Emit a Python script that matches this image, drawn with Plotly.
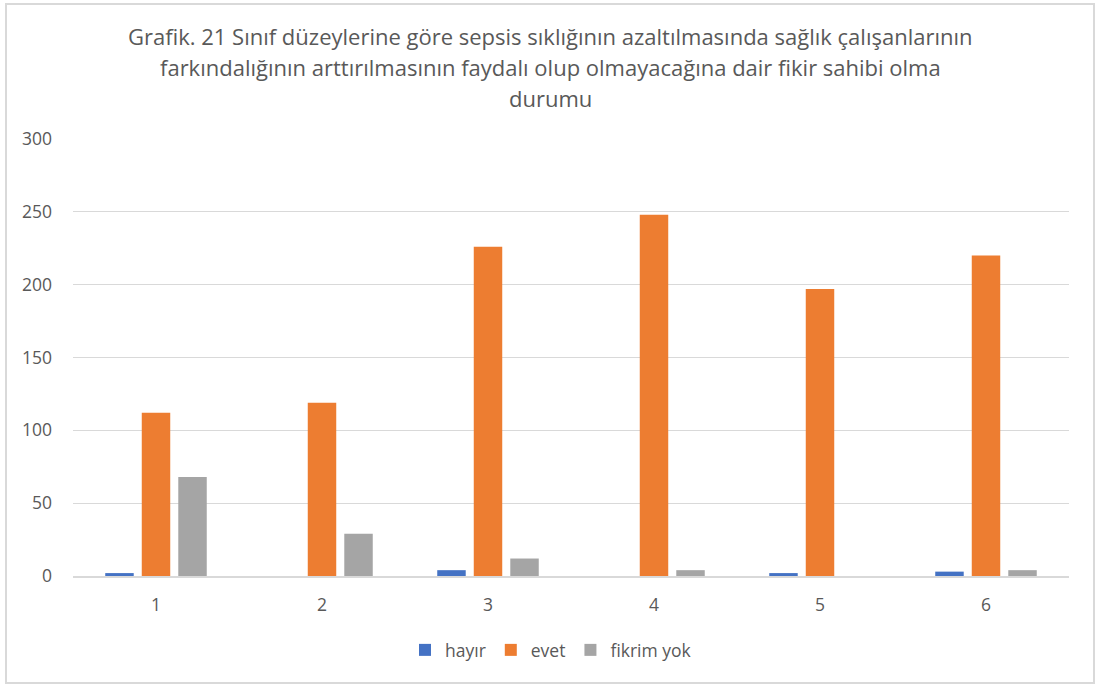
import plotly.graph_objects as go

categories = ["1", "2", "3", "4", "5", "6"]
hayir = [2, 0, 4, 0, 2, 3]
evet = [112, 119, 226, 248, 197, 220]
fikrim_yok = [68, 29, 12, 4, 0, 4]
series_names = ["hayır", "evet", "fikrim yok"]
colors = ["#4472C4", "#ED7D31", "#A5A5A5"]
title_lines = [
    "Grafik. 21 Sınıf düzeylerine göre sepsis sıklığının azaltılmasında sağlık çalışanlarının",
    "farkındalığının arttırılmasının faydalı olup olmayacağına dair fikir sahibi olma",
    "durumu",
]
y_ticks = [0, 50, 100, 150, 200, 250, 300]

W, H = 1099, 688
L, R, T, B = 73, 30, 139, 112
pw, ph = W - L - R, H - T - B

def px_x(p):
    return (p - L) / pw

def px_y(p):
    return (H - B - p) / ph

FONT = "'Open Sans', Lato, sans-serif"
TXT = "#595959"

fig = go.Figure()
for name, vals, col in zip(series_names, [hayir, evet, fikrim_yok], colors):
    fig.add_trace(go.Bar(x=categories, y=vals, name=name, marker_color=col,
                         marker_line_width=0))

annotations = []
for line, py in zip(title_lines, [37, 68, 99]):
    annotations.append(dict(text=line, xref="paper", yref="paper",
                            x=px_x(550), y=px_y(py - 1), xanchor="center", yanchor="middle",
                            showarrow=False, font=dict(family=FONT, size=22, color=TXT)))

fig.update_layout(
    width=W, height=H,
    margin=dict(l=L, r=R, t=T, b=B, autoexpand=False),
    paper_bgcolor="white", plot_bgcolor="white",
    barmode="group", bargap=0.34, bargroupgap=0.22,
    font=dict(family=FONT, size=17.5, color=TXT),
    annotations=annotations,
    legend=dict(orientation="h", x=px_x(551), xanchor="center", y=px_y(650), yanchor="middle",
                font=dict(family=FONT, size=17.5, color=TXT), itemwidth=30,
                traceorder="normal"),
    xaxis=dict(showgrid=False, showline=True, linecolor="#D9D9D9", linewidth=1.5,
               ticks="", tickfont=dict(size=17.5, color=TXT), ticklabelstandoff=12),
    yaxis=dict(range=[0, 300], tickvals=y_ticks, showgrid=True, gridcolor="#D9D9D9",
               gridwidth=1.3, zeroline=False, showline=False, ticks="",
               tickfont=dict(size=17.5, color=TXT), ticklabelstandoff=20),
    shapes=[dict(type="rect", xref="paper", yref="paper",
                 x0=px_x(6), x1=px_x(1094), y0=px_y(683), y1=px_y(4),
                 line=dict(color="#D9D9D9", width=2), fillcolor="rgba(0,0,0,0)",
                 layer="below")],
)

fig.write_html("out.html", config={"displayModeBar": False},
               post_script="document.body.style.margin='0';document.body.style.padding='0';")
